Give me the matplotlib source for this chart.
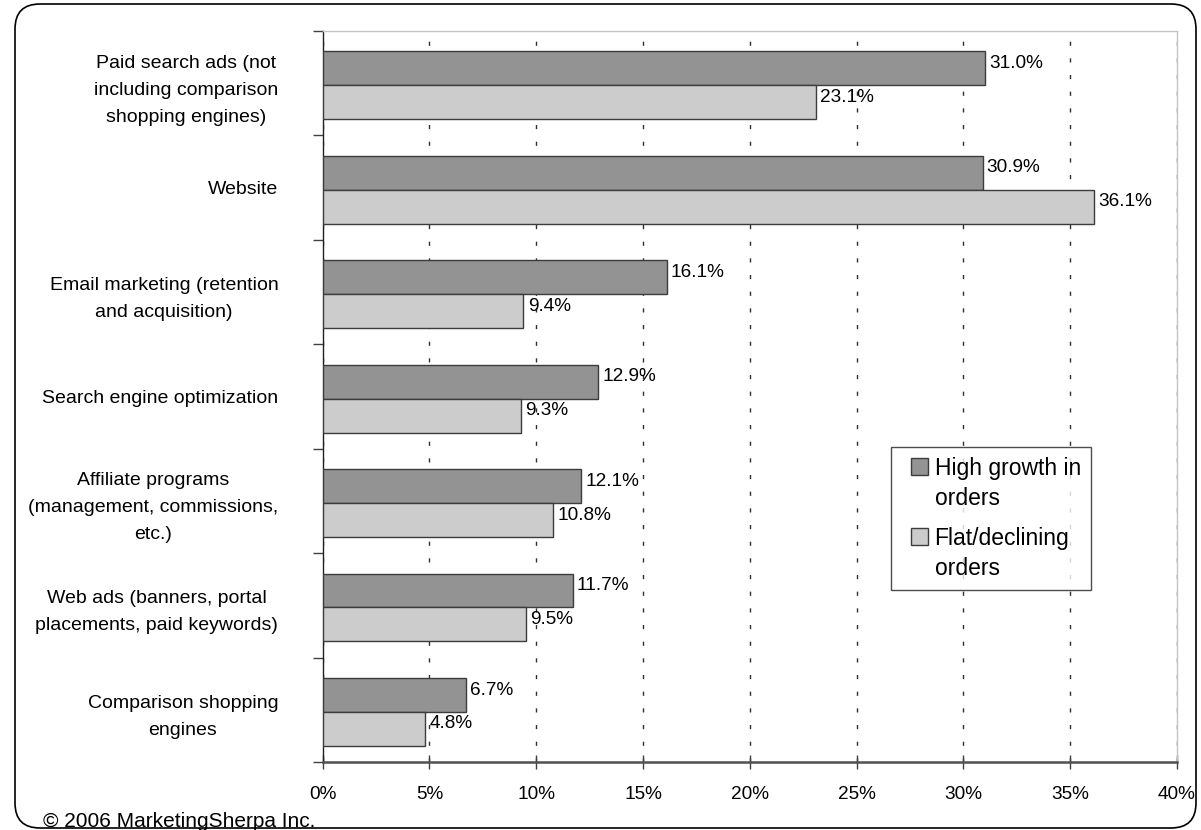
import matplotlib
matplotlib.use("Agg")
import matplotlib.pyplot as plt
import numpy as np
from matplotlib.patches import FancyBboxPatch, Rectangle
from matplotlib.legend_handler import HandlerPatch
from matplotlib.container import BarContainer

plt.rcParams['font.family'] = ['Liberation Sans', 'DejaVu Sans']

categories = [
    "Paid search ads (not\nincluding comparison\nshopping engines)",
    "Website",
    "Email marketing (retention\nand acquisition)",
    "Search engine optimization",
    "Affiliate programs\n(management, commissions,\netc.)",
    "Web ads (banners, portal\nplacements, paid keywords)",
    "Comparison shopping\nengines",
]
high_growth = [31.0, 30.9, 16.1, 12.9, 12.1, 11.7, 6.7]
flat_declining = [23.1, 36.1, 9.4, 9.3, 10.8, 9.5, 4.8]
series_names = ["High growth in\norders", "Flat/declining\norders"]
x_ticks = [0, 5, 10, 15, 20, 25, 30, 35, 40]

CAT_FS = 14
NUM_FS = 13.7
dark = "#939393"
light = "#cccccc"
edge = "#3c3c3c"

fig = plt.figure(figsize=(12.01, 8.30), dpi=100)
ax = fig.add_axes([322.7 / 1201, 1 - 762 / 830, (1177 - 322.7) / 1201, 731 / 830])

y = np.arange(len(categories))
h = 0.325
b1 = ax.barh(y - h / 2 + 0.02, high_growth, height=h, color=dark, edgecolor=edge,
             linewidth=1.0, label=series_names[0], zorder=3)
b2 = ax.barh(y + h / 2 + 0.02, flat_declining, height=h, color=light, edgecolor=edge,
             linewidth=1.0, label=series_names[1], zorder=3)

for bars, vals in ((b1, high_growth), (b2, flat_declining)):
    for bar, v in zip(bars, vals):
        ax.annotate(f"{v:.1f}%", (bar.get_width(), bar.get_y() + bar.get_height() / 2),
                    xytext=(3, 3.5), textcoords="offset points",
                    ha="left", va="center", fontsize=NUM_FS, zorder=4)

ax.set_xlim(0, 40)
ax.set_ylim(len(categories) - 0.5, -0.5)
ax.set_xticks(x_ticks)
ax.set_xticklabels([f"{t}%" for t in x_ticks], fontsize=NUM_FS)
ax.tick_params(axis="x", direction="inout", length=10, width=1.0, color="#404040", pad=12)

# ticks on the category boundaries, labels centred in each band
ax.set_yticks(np.arange(len(categories) + 1) - 0.5)
ax.set_yticklabels([])
ax.set_yticks(y, minor=True)
ax.set_yticklabels(categories, minor=True, fontsize=CAT_FS,
                   multialignment="center", linespacing=1.76)
ax.tick_params(axis="y", which="major", direction="out", length=7, width=1.0, color="#404040")
ax.tick_params(axis="y", which="minor", length=0, pad=32)

ax.grid(axis="x", color="#303030", linestyle=(0, (3, 9)), linewidth=1.0, zorder=1)

ax.spines["left"].set_color("#202020")
ax.spines["left"].set_linewidth(1.0)
ax.spines["bottom"].set_color("#505050")
ax.spines["bottom"].set_linewidth(1.8)
for s in ("top", "right"):
    ax.spines[s].set_color("#c4c4c4")
    ax.spines[s].set_linewidth(1.0)


def top_square(legend, orig_handle, xdescent, ydescent, width, height, fontsize):
    # square at the right of the handle box, level with the first text line
    sq = 12.5
    return Rectangle((-xdescent + width - sq, -ydescent + (height - sq) / 2 + 13.0), sq, sq)


def from_first_bar(handle, orig):
    handle.update_from(orig.patches[0])


sq_handler = HandlerPatch(patch_func=top_square, update_func=from_first_bar)
leg = ax.legend(loc="upper left", bbox_to_anchor=(0.665, 0.431), borderaxespad=0,
                fontsize=16.5, frameon=True, fancybox=False, edgecolor="#202020",
                handlelength=1.2, handleheight=0.72, handletextpad=0.27,
                labelspacing=0.72, borderpad=0.44,
                handler_map={BarContainer: sq_handler})
leg.get_frame().set_linewidth(1.0)
for t in leg.get_texts():
    t.set_linespacing(1.4)

# rounded outer border
border = FancyBboxPatch((0.15, 0.02), 11.81, 8.24, boxstyle="round,pad=0,rounding_size=0.25",
                        transform=fig.dpi_scale_trans, fill=False, edgecolor="black",
                        linewidth=1.2)
fig.patches.append(border)

fig.text(43 / 1201, 1 - 821 / 830, "\u00a9 2006 MarketingSherpa Inc.", fontsize=15,
         ha="left", va="center")

fig.savefig("out.png", dpi=100)
plt.close(fig)
